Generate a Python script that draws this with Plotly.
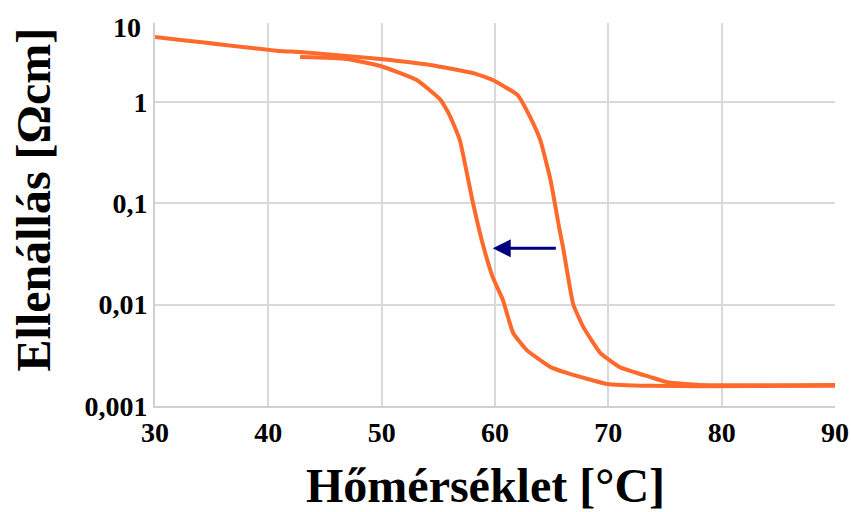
import math
import plotly.graph_objects as go

# Heating branch: temperature [°C] and resistivity [Ωcm]
heat_t = [30.0, 41.0, 42.8, 49.9, 54.3, 58.1, 59.8, 62.0, 63.1, 64.0, 64.9, 65.7,
          66.0, 66.9, 67.8, 69.3, 71.0, 73.7, 75.2, 78.1, 90.0]
heat_r = [4.38, 3.19, 3.12, 2.66, 2.32, 1.93, 1.65, 1.17, 0.71, 0.42, 0.17, 0.0545,
          0.037, 0.0101, 0.0060, 0.00333, 0.00242, 0.00193, 0.00172, 0.00161, 0.00161]

# Cooling branch: from 90 °C back down to 43 °C
cool_t = [90.0, 78.1, 73.7, 69.9, 66.4, 64.9, 62.8, 61.6, 60.7, 59.8, 58.9, 58.0,
          56.9, 56.0, 55.2, 53.1, 49.9, 46.9, 42.8]
cool_r = [0.00158, 0.00157, 0.00158, 0.00165, 0.00211, 0.00242, 0.00356, 0.00525,
          0.0111, 0.0187, 0.0405, 0.108, 0.42, 0.74, 1.05, 1.65, 2.27, 2.66, 2.78]

# Arrow showing the shift of the transition on cooling
arrow_from_t, arrow_to_t, arrow_r = 65.5, 59.8, 0.036

y_tickvals = [0.001, 0.01, 0.1, 1]
y_ticktext = ["0,001", "0,01", "0,1", "1"]
x_tickvals = [30, 40, 50, 60, 70, 80, 90]

orange = "#FF6A2C"
serif_bold = dict(family="Liberation Serif", color="black", weight="bold")

fig = go.Figure()
for t, r in ((heat_t, heat_r), (cool_t, cool_r)):
    fig.add_trace(go.Scatter(x=t, y=r, mode="lines",
                             line=dict(color=orange, width=4, shape="spline", smoothing=0.4),
                             hoverinfo="skip"))

fig.add_annotation(x=arrow_to_t, y=math.log10(arrow_r),
                   ax=arrow_from_t, ay=math.log10(arrow_r),
                   xref="x", yref="y", axref="x", ayref="y",
                   text="", showarrow=True, arrowhead=2, arrowsize=1.2,
                   arrowwidth=3, arrowcolor="#00007F")

# top decade label
fig.add_annotation(x=-0.018, y=0.987, xref="paper", yref="paper",
                   xanchor="right", yanchor="middle", text="10", showarrow=False,
                   font=dict(size=28, **serif_bold))

# axis titles
fig.add_annotation(x=-0.179, y=0.54, xref="paper", yref="paper",
                   xanchor="center", yanchor="middle", textangle=-90,
                   text="Ellenállás [Ωcm]", showarrow=False,
                   font=dict(size=48, **serif_bold))
fig.add_annotation(x=0.486, y=-0.208, xref="paper", yref="paper",
                   xanchor="center", yanchor="middle",
                   text="Hőmérséklet [°C]", showarrow=False,
                   font=dict(size=48, **serif_bold))

fig.update_layout(
    width=851, height=512,
    margin=dict(l=155, r=16, t=23, b=106),
    paper_bgcolor="white", plot_bgcolor="white",
    showlegend=False,
)
fig.update_xaxes(
    range=[30, 90], tickvals=x_tickvals, ticks="", automargin=False,
    showgrid=True, gridcolor="#D9D9D9", gridwidth=1.5,
    showline=True, linecolor="#D0D0D0", linewidth=2,
    zeroline=False,
    tickfont=dict(size=28, **serif_bold),
)
fig.update_yaxes(
    type="log", range=[-3, 0.78], tickvals=y_tickvals, ticktext=y_ticktext, ticks="",
    automargin=False,
    showgrid=True, gridcolor="#D9D9D9", gridwidth=1.5,
    showline=True, linecolor="#D0D0D0", linewidth=2,
    zeroline=False,
    tickfont=dict(size=28, **serif_bold),
)

fig.write_html("out.html")
